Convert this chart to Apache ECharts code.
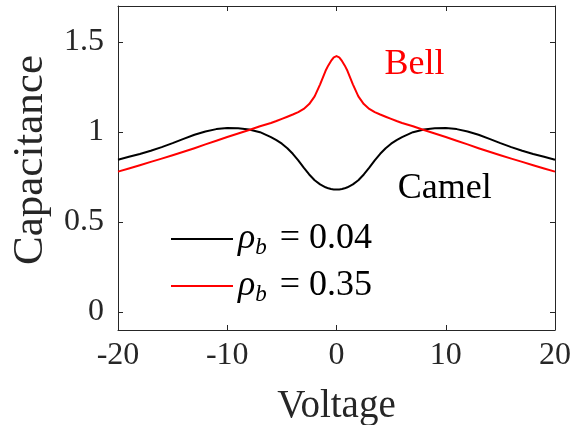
<!DOCTYPE html>
<html>
<head>
<meta charset="utf-8">
<script src="https://cdn.jsdelivr.net/npm/echarts@6/dist/echarts.min.js"></script>
<style>
  html, body { margin: 0; padding: 0; background: #ffffff; }
  #chart { width: 574px; height: 425px; }
</style>
</head>
<body>
<div id="chart"></div>
<script>
// Sample voltages: 1 V steps on the flanks, 0.5 V steps (0.25 V at the tip) in the centre
const voltage = [
  -20, -19, -18, -17, -16, -15, -14, -13, -12, -11, -10, -9, -8, -7,
  -6, -5.5, -5, -4.5, -4, -3.5, -3, -2.5, -2, -1.5, -1, -0.75, -0.5, -0.25,
  0,
  0.25, 0.5, 0.75, 1, 1.5, 2, 2.5, 3, 3.5, 4, 4.5, 5, 5.5, 6,
  7, 8, 9, 10, 11, 12, 13, 14, 15, 16, 17, 18, 19, 20
];

// rho_b = 0.04 : "camel" shaped capacitance
const camel = [
  0.846, 0.862, 0.878, 0.896, 0.916, 0.938, 0.962, 0.985, 1.003, 1.016, 1.022, 1.021, 1.014, 0.999,
  0.972, 0.955, 0.935, 0.910, 0.879, 0.842, 0.802, 0.764, 0.732, 0.709, 0.693, 0.687, 0.683, 0.681,
  0.680,
  0.681, 0.683, 0.687, 0.693, 0.709, 0.732, 0.764, 0.802, 0.842, 0.879, 0.910, 0.935, 0.955, 0.972,
  0.999, 1.014, 1.021, 1.022, 1.016, 1.003, 0.985, 0.962, 0.938, 0.916, 0.896, 0.878, 0.862, 0.846
];

// rho_b = 0.35 : "bell" shaped capacitance
const bell = [
  0.780, 0.797, 0.815, 0.834, 0.852, 0.871, 0.890, 0.910, 0.931, 0.951, 0.972, 0.992, 1.011, 1.032,
  1.050, 1.061, 1.073, 1.085, 1.097, 1.110, 1.128, 1.155, 1.198, 1.265, 1.340, 1.370, 1.395, 1.415,
  1.422,
  1.415, 1.395, 1.370, 1.340, 1.265, 1.198, 1.155, 1.128, 1.110, 1.097, 1.085, 1.073, 1.061, 1.050,
  1.032, 1.011, 0.992, 0.972, 0.951, 0.931, 0.910, 0.890, 0.871, 0.852, 0.834, 0.815, 0.797, 0.780
];

const rhoValues = ['0.04', '0.35'];
const xTicks = [-20, -10, 0, 10, 20];
const yTicks = [0, 0.5, 1, 1.5];

// Text notes placed in data coordinates (voltage, capacitance)
const noteBell = { text: 'Bell', at: [4.4, 1.372] };
const noteCamel = { text: 'Camel', at: [5.6, 0.685] };

const FONT = 'Liberation Serif';
const AXIS_COLOR = '#262626';

const pairs = ys => voltage.map((v, i) => [v, ys[i]]);

const chart = echarts.init(document.getElementById('chart'), null, { renderer: 'canvas' });

const baseX = {
  type: 'value',
  min: xTicks[0],
  max: xTicks[xTicks.length - 1],
  interval: 10,
  splitLine: { show: false },
  axisLine: { show: true, onZero: false, lineStyle: { color: AXIS_COLOR, width: 1 } },
  axisTick: { show: true, inside: true, length: 5, lineStyle: { color: AXIS_COLOR } }
};

const baseY = {
  type: 'value',
  min: -0.1,
  max: 1.7,
  splitLine: { show: false },
  axisLine: { show: true, onZero: false, lineStyle: { color: AXIS_COLOR, width: 1 } },
  axisTick: { show: true, inside: true, length: 5, customValues: yTicks, lineStyle: { color: AXIS_COLOR } }
};

const noteLabel = (note, color) => ({
  silent: true,
  symbol: 'circle',
  symbolSize: 0,
  itemStyle: { color: 'transparent' },
  label: {
    show: true,
    position: 'right',
    distance: 0,
    formatter: note.text,
    fontFamily: FONT,
    fontSize: 36,
    color: color
  },
  data: [{ coord: note.at }]
});

chart.setOption({
  animation: false,
  backgroundColor: '#ffffff',
  grid: {
    left: 118, right: 19, top: 6, bottom: 95,
    outerBoundsMode: 'none',
    show: false
  },
  xAxis: [
    Object.assign({}, baseX, {
      position: 'bottom',
      axisLabel: { fontFamily: FONT, fontSize: 32, color: AXIS_COLOR, margin: 10 },
      name: 'Voltage',
      nameLocation: 'middle',
      nameGap: 57,
      nameTextStyle: { fontFamily: FONT, fontSize: 39, color: AXIS_COLOR }
    }),
    Object.assign({}, baseX, { position: 'top', axisLabel: { show: false } })
  ],
  yAxis: [
    Object.assign({}, baseY, {
      position: 'left',
      axisLabel: { fontFamily: FONT, fontSize: 32, color: AXIS_COLOR, margin: 14, customValues: yTicks },
      name: 'Capacitance',
      nameLocation: 'middle',
      nameGap: 66,
      nameTextStyle: { fontFamily: FONT, fontSize: 43, color: AXIS_COLOR, padding: [0, 0, 0, 16] }
    }),
    Object.assign({}, baseY, { position: 'right', axisLabel: { show: false } })
  ],
  legend: {
    orient: 'vertical',
    left: 171,
    top: 221,
    padding: 0,
    icon: 'rect',
    itemWidth: 62,
    itemHeight: 2,
    itemGap: 9,
    selectedMode: false,
    formatter: name => {
      const v = name.split('= ')[1];
      return '{r|ρ}{s|b}{t|= ' + v + '}';
    },
    textStyle: {
      color: '#000000',
      rich: {
        r: { fontFamily: FONT, fontStyle: 'italic', fontSize: 36, lineHeight: 40, verticalAlign: 'middle' },
        s: { fontFamily: FONT, fontStyle: 'italic', fontSize: 23, lineHeight: 26, verticalAlign: 'bottom' },
        t: { fontFamily: FONT, fontSize: 36, lineHeight: 40, verticalAlign: 'middle', padding: [0, 0, 0, 13] }
      }
    }
  },
  series: [
    {
      name: 'ρb = ' + rhoValues[0],
      type: 'line',
      data: pairs(camel),
      showSymbol: false,
      symbol: 'none',
      smooth: false,
      color: '#000000',
      lineStyle: { color: '#000000', width: 2, join: 'round' },
      markPoint: noteLabel(noteCamel, '#000000')
    },
    {
      name: 'ρb = ' + rhoValues[1],
      type: 'line',
      data: pairs(bell),
      showSymbol: false,
      symbol: 'none',
      smooth: false,
      color: '#ff0000',
      lineStyle: { color: '#ff0000', width: 2, join: 'round' },
      markPoint: noteLabel(noteBell, '#ff0000')
    }
  ]
});
</script>
</body>
</html>
